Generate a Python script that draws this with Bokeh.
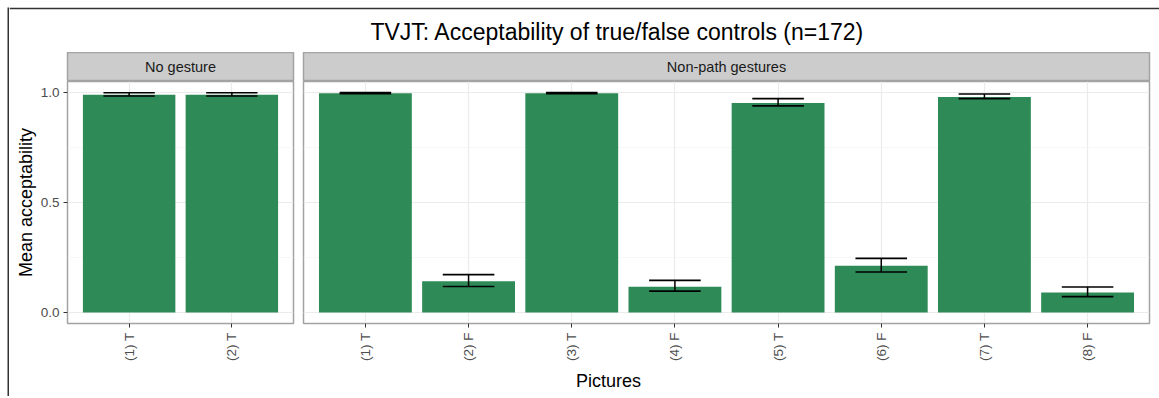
import math
from bokeh.plotting import figure
from bokeh.models import (Range1d, FactorRange, FixedTicker, PrintfTickFormatter,
                          Label, ColumnDataSource, Spacer)
from bokeh.transform import dodge
from bokeh.layouts import column, row
from bokeh.embed import file_html
from bokeh.resources import INLINE

# ---------------- data ----------------
title_text = "TVJT: Acceptability of true/false controls (n=172)"
x_title = "Pictures"
y_title = "Mean acceptability"
facets = ["No gesture", "Non-path gestures"]

ng_pics = ["(1) T", "(2) T"]
ng_means = [0.990, 0.990]
ng_lo = [0.984, 0.984]
ng_hi = [0.999, 0.999]

np_pics = ["(1) T", "(2) F", "(3) T", "(4) F", "(5) T", "(6) F", "(7) T", "(8) F"]
np_means = [0.997, 0.142, 0.997, 0.117, 0.952, 0.212, 0.979, 0.091]
np_lo = [0.994, 0.118, 0.994, 0.097, 0.939, 0.184, 0.972, 0.072]
np_hi = [1.000, 0.172, 1.000, 0.146, 0.972, 0.246, 0.993, 0.116]

y_ticks = [0.0, 0.5, 1.0]
y_minor = [0.25, 0.75]

# ---------------- style ----------------
FONT = "Liberation Sans"
BAR = "#2e8b57"
BORDER = "#a3a3a3"
STRIP = "#cccccc"
EDGE = "#333333"
PAD = 7
EDGE_W = 2
L_LEFT, L_FRAME, L_RIGHT = 58, 226, 5
R_LEFT, R_FRAME, R_RIGHT = 5, 846, 10
W_BODY = L_LEFT + L_FRAME + L_RIGHT + R_LEFT + R_FRAME + R_RIGHT
TITLE_H = 43
STRIP_H = 29
PANEL_H = 242
BOTTOM = 40
XLAB_H = 33
H_BODY = EDGE_W + TITLE_H + STRIP_H + PANEL_H + BOTTOM + XLAB_H


def panel(pics, means, lo, hi, left, frame, right, show_y):
    src = ColumnDataSource(dict(x=pics, m=means, lo=lo, hi=hi))
    p = figure(x_range=FactorRange(factors=pics, range_padding=0.1,
                                   range_padding_units="absolute"),
               y_range=Range1d(-0.05, 1.05),
               width=left + frame + right, height=PANEL_H + BOTTOM,
               title=None, min_border_left=left, min_border_right=right,
               min_border_top=0, min_border_bottom=BOTTOM,
               output_backend="svg", toolbar_location=None,
               y_axis_location="left" if show_y else None)
    p.vbar(x="x", top="m", bottom=0, width=0.9, source=src,
           fill_color=BAR, line_color=None)
    p.segment(x0="x", x1="x", y0="lo", y1="hi", source=src,
              line_color="black", line_width=1.5)
    for c in ("lo", "hi"):
        p.segment(x0=dodge("x", -0.25, range=p.x_range),
                  x1=dodge("x", 0.25, range=p.x_range),
                  y0=c, y1=c, source=src, line_color="black", line_width=1.6)
    p.background_fill_color = "white"
    p.border_fill_color = "white"
    p.outline_line_color = BORDER
    p.outline_line_width = 1.5
    p.xgrid.grid_line_color = "#ebebeb"
    p.xgrid.grid_line_width = 1.2
    p.ygrid.ticker = FixedTicker(ticks=y_ticks, minor_ticks=y_minor)
    p.ygrid.grid_line_color = "#ebebeb"
    p.ygrid.grid_line_width = 1.2
    p.ygrid.minor_grid_line_color = "#f4f4f4"
    p.ygrid.minor_grid_line_width = 0.7

    ax = p.xaxis[0]
    ax.axis_line_color = None
    ax.major_tick_out = 4
    ax.major_tick_in = 0
    ax.major_tick_line_color = "#333333"
    ax.minor_tick_line_color = None
    ax.major_label_orientation = math.pi / 2
    ax.major_label_standoff = 5
    ax.major_label_text_font = FONT
    ax.major_label_text_font_size = "13.5px"
    ax.major_label_text_color = "#4d4d4d"

    if show_y:
        ay = p.yaxis[0]
        ay.ticker = FixedTicker(ticks=y_ticks, minor_ticks=y_minor)
        ay.formatter = PrintfTickFormatter(format="%.1f")
        ay.axis_line_color = None
        ay.major_tick_out = 4
        ay.major_tick_in = 0
        ay.major_tick_line_color = "#333333"
        ay.minor_tick_line_color = None
        ay.major_label_standoff = 4
        ay.major_label_text_font = FONT
        ay.major_label_text_font_size = "13.5px"
        ay.major_label_text_color = "#4d4d4d"
        ay.axis_label = y_title
        ay.axis_label_standoff = 2
        ay.axis_label_text_font = FONT
        ay.axis_label_text_font_size = "18px"
        ay.axis_label_text_font_style = "normal"
        ay.axis_label_text_color = "black"
    return p


def strip(text, left, frame, right):
    s = figure(width=left + frame + right, height=STRIP_H,
               x_range=Range1d(0, 1), y_range=Range1d(0, 1), title=None,
               min_border_left=left, min_border_right=right,
               min_border_top=0, min_border_bottom=0,
               x_axis_location=None, y_axis_location=None,
               output_backend="svg", toolbar_location=None)
    s.grid.visible = False
    s.background_fill_color = STRIP
    s.border_fill_color = "white"
    s.outline_line_color = BORDER
    s.outline_line_width = 1.5
    s.add_layout(Label(x=0.5, y=0.5, text=text, text_align="center",
                       text_baseline="middle", text_font=FONT,
                       text_font_size="14.5px", text_color="#1a1a1a"))
    return s


def text_band(text, h, top, x, y, size):
    f = figure(width=W_BODY, height=h + top, x_range=Range1d(0, W_BODY),
               y_range=Range1d(0, h), title=None, min_border=0,
               min_border_top=top,
               x_axis_location=None, y_axis_location=None,
               output_backend="svg", toolbar_location=None)
    f.grid.visible = False
    f.outline_line_color = None
    f.background_fill_color = "white"
    f.border_fill_color = EDGE if top else "white"
    f.add_layout(Label(x=x, y=y, text=text, text_align="center",
                       text_baseline="middle", text_font=FONT,
                       text_font_size=f"{size}px", text_color="black"))
    return f


def edge(w, h):
    e = figure(width=w, height=h, x_range=Range1d(0, 1), y_range=Range1d(0, 1),
               title=None, min_border=0, x_axis_location=None,
               y_axis_location=None, output_backend="svg",
               toolbar_location=None)
    e.grid.visible = False
    e.outline_line_color = None
    e.background_fill_color = EDGE
    e.border_fill_color = EDGE
    return e


title_fig = text_band(title_text, TITLE_H, EDGE_W, 608, 21, 23)
bottom_fig = text_band(x_title, XLAB_H, 0, 599, 15.5, 18)

stripL = strip(facets[0], L_LEFT, L_FRAME, L_RIGHT)
stripR = strip(facets[1], R_LEFT, R_FRAME, R_RIGHT)
panL = panel(ng_pics, ng_means, ng_lo, ng_hi, L_LEFT, L_FRAME, L_RIGHT, True)
panR = panel(np_pics, np_means, np_lo, np_hi, R_LEFT, R_FRAME, R_RIGHT, False)
panR.y_range = panL.y_range

body = column(title_fig,
              row(column(stripL, panL), column(stripR, panR)),
              bottom_fig)
layout = column(Spacer(width=PAD + EDGE_W + W_BODY, height=PAD),
                row(Spacer(width=PAD, height=H_BODY), edge(EDGE_W, H_BODY), body))

open("out.html", "w").write(file_html(layout, INLINE))
